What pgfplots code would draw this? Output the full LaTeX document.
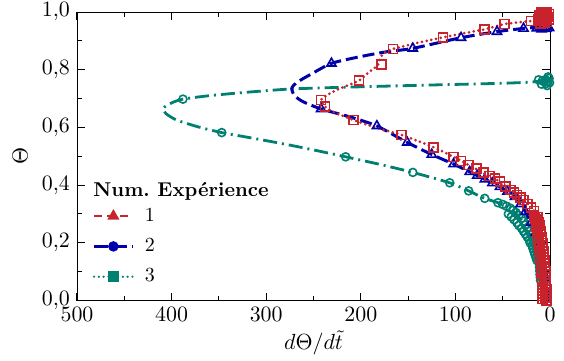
\documentclass[border=0pt]{standalone}
\usepackage{pgfplots}
\pgfplotsset{compat=1.18}
\definecolor{cred}{RGB}{200,35,45}
\definecolor{cblue}{RGB}{0,0,170}
\definecolor{cteal}{RGB}{0,128,112}
\begin{document}
\begin{tikzpicture}
\begin{axis}[
  scale only axis, width=236.5pt, height=144.25pt,
  x dir=reverse, xmin=0, xmax=500, ymin=0, ymax=1,
  xtick={0,100,200,300,400,500}, minor xtick={50,150,250,350,450},
  ytick={0,0.2,0.4,0.6,0.8,1.0}, minor ytick={0.1,0.3,0.5,0.7,0.9},
  tick align=inside, major tick length=4pt, minor tick length=2.5pt,
  tick style={black, line width=0.5pt},
  ticklabel style={font=\fontsize{10.5}{12}\selectfont},
  yticklabel style={/pgf/number format/.cd, use comma, fixed, fixed zerofill, precision=1},
  xticklabel style={/pgf/number format/.cd, fixed, precision=0},
  xlabel={$d\Theta/d\tilde{t}$}, ylabel={$\Theta$},
  label style={font=\fontsize{11}{13}\selectfont},
  xlabel style={at={(axis description cs:0.5,-0.147)}, anchor=center},
  ylabel style={at={(axis description cs:-0.12,0.5)}, anchor=center},
  legend cell align=left,
  legend style={draw=none, fill=none, at={(axis description cs:0.02,0.35)}, anchor=north west,
    font=\fontsize{10}{12}\selectfont, row sep=3pt},
  legend image code/.code={\draw[mark repeat=2,mark phase=2,#1] plot coordinates {(0cm,0cm) (0.34cm,0cm) (0.68cm,0cm)};},
]
% ---------- Series 3 (teal) ----------
\addplot[cteal, line width=1.4pt, dash pattern=on 7pt off 2.5pt on 1pt off 2.5pt, smooth, tension=0.4, forget plot] coordinates {
(9,0.02) (10,0.07) (10.6,0.095) (12,0.13) (16,0.187) (20,0.22) (26,0.256) (33,0.29) (42,0.32) (55,0.339) (69,0.354) (86,0.38) (106,0.408) (145,0.444) (180,0.472) (216,0.498) (250,0.522) (285,0.545) (320,0.566) (347,0.582) (372,0.602) (395,0.626) (406,0.648) (409,0.666) (400,0.685) (388,0.698) (360,0.71) (320,0.722) (275,0.733) (220,0.739) (150,0.745) (100,0.749) (50,0.753) (20,0.757) (10,0.762) (3,0.765) (0,0.765)
};
\addplot[cteal, only marks, mark=o, mark size=2pt, mark options={line width=0.8pt}, forget plot] coordinates {
(388,0.698) (347,0.582) (216,0.498) (145,0.444) (106,0.408) (86,0.38) (69,0.354) (55,0.339)
(50,0.333) (46,0.327) (42,0.32) (39,0.313) (36,0.305) (33,0.295) (30,0.285) (28,0.275) (26,0.262) (24,0.252) (22,0.24) (20,0.228) (18,0.215) (17,0.203) (15,0.19) (14,0.178) (13,0.165) (12.5,0.152) (12,0.14) (11.5,0.128) (11,0.115) (10.8,0.103) (10.5,0.09) (10.2,0.08) (10,0.07)
(44,0.3) (41,0.29) (38,0.28) (35,0.27) (33,0.26) (30,0.25) (28,0.24) (26,0.23) (24,0.22) (22,0.21) (21,0.2) (19,0.19) (18,0.18) (17,0.17) (16,0.16) (15,0.15) (14,0.14)
(12,0.765) (9,0.75) (8,0.762) (6,0.758) (5,0.765) (4,0.752) (3,0.745) (2,0.775) (2,0.76) (1,0.77) (0.5,0.755)
};
% ---------- Series 2 (blue) ----------
\addplot[cblue, line width=1.5pt, dash pattern=on 6pt off 2.5pt, smooth, tension=0.4, forget plot] coordinates {
(1,0.0) (2,0.05) (4,0.1) (7,0.15) (12,0.2) (19,0.25) (26,0.308) (37,0.36) (53,0.394) (69,0.42) (85,0.446) (102,0.473) (125,0.506) (151,0.548) (183,0.605) (210,0.635) (242,0.664) (261,0.689) (270,0.71) (273,0.735) (268,0.755) (254,0.782) (231,0.822) (201,0.845) (173,0.862) (145,0.874) (94,0.911) (56,0.932) (28,0.943) (7,0.949) (0,0.95)
};
\addplot[cblue, only marks, mark=triangle, mark size=2.6pt, mark options={line width=0.8pt}, forget plot] coordinates {
(20,0.27) (15,0.235) (11,0.2) (26,0.308) (31,0.335) (37,0.36) (45,0.378) (53,0.394) (61,0.407) (69,0.42) (77,0.433) (85,0.446) (102,0.473) (125,0.506) (151,0.548) (183,0.605) (242,0.664) (231,0.822) (145,0.874) (94,0.911) (56,0.932) (28,0.943)
(14,0.944) (11,0.946) (9,0.94) (8,0.947) (5,0.948) (4,0.942) (2,0.949) (1,0.945)
};
% ---------- Series 1 (red) ----------
\addplot[cred, line width=1.5pt, line cap=round, dash pattern=on 0pt off 2.4pt, smooth, tension=0.4, forget plot] coordinates {
(5,0.0) (6,0.05) (6.5,0.1) (7.5,0.15) (9,0.2) (11,0.25) (14,0.296) (20,0.325) (28,0.348) (42,0.383) (53,0.412) (70.5,0.443) (86,0.47) (102,0.498) (123,0.531) (157,0.574) (185,0.6) (208,0.626) (228,0.652) (238,0.672) (242,0.695) (234,0.715) (222,0.735) (202,0.762) (192,0.79) (182,0.815) (180,0.835) (176,0.857) (166,0.872) (140,0.893) (113,0.912) (90,0.927) (69,0.94) (48,0.958) (20,0.969) (8,0.975) (0,0.98)
};
\addplot[cred, only marks, mark=square, mark size=2.25pt, mark options={line width=0.8pt}, forget plot] coordinates {
(17,0.31) (20,0.322) (24,0.335) (28,0.348) (31,0.357) (35,0.366) (38,0.374) (42,0.383) (47,0.396) (53,0.412) (58,0.422) (64,0.432) (70.5,0.443) (78,0.457) (86,0.47) (94,0.484) (102,0.498) (123,0.531) (157,0.574) (208,0.626) (238,0.672) (242,0.695) (202,0.762) (178,0.819) (166,0.872) (113,0.912) (69,0.94) (48,0.958) (20,0.969)
(4,0.000) (8,0.005) (5,0.010) (8,0.015) (4,0.020) (8,0.025) (5,0.030) (8,0.035) (4,0.040) (8,0.045) (5,0.050) (8.5,0.055) (4.5,0.060) (8.5,0.065) (5,0.070) (8.5,0.075) (4.5,0.080) (8.5,0.085) (5,0.090) (9,0.095) (5,0.100) (9,0.105) (5.5,0.110) (9,0.115) (5.5,0.120) (9.5,0.125) (6,0.130) (9.5,0.135) (6,0.140) (10,0.145) (6.5,0.150) (10,0.155) (7,0.160) (10.5,0.165) (7,0.170) (11,0.175) (7.5,0.180) (11,0.185) (8,0.190) (11.5,0.195) (8,0.200) (12,0.205) (8.5,0.210) (12,0.215) (9,0.220) (12.5,0.225) (9.5,0.230) (13,0.235) (10,0.240) (13.5,0.245) (10.5,0.250) (14,0.255) (11,0.260) (14.5,0.265) (12,0.270) (15,0.275) (12.5,0.280) (16,0.285) (13.5,0.290) (17,0.295)
(12,0.975) (11,0.99) (10,0.96) (10,0.978) (9,0.999) (8,0.97) (8,0.986) (7,0.995) (6,0.962) (6,0.98) (5,1.0) (4,0.972) (4,0.99) (3,0.965) (3,0.998) (2,0.983) (1,0.975) (1,0.993)
};
% ---------- Legend ----------
\addlegendimage{cred, line width=1.2pt, dash pattern=on 4pt off 2.5pt, mark=triangle*, mark size=2.3pt, mark options={solid}}
\addlegendentry{\hspace{3.5pt}1}
\addlegendimage{cblue, line width=1.2pt, dash pattern=on 7pt off 2.5pt, mark=*, mark size=2pt, mark options={solid}}
\addlegendentry{\hspace{3.5pt}2}
\addlegendimage{cteal, line width=1.2pt, line cap=round, dash pattern=on 0pt off 2.4pt, mark=square*, mark size=2.1pt, mark options={solid}}
\addlegendentry{\hspace{3.5pt}3}
\node[anchor=base west, inner sep=0pt, font=\bfseries\fontsize{10}{12}\selectfont] at (axis description cs:0.034,0.362) {Num.\ Expérience};
\coordinate (ll) at (rel axis cs:0,0);
\coordinate (ur) at (rel axis cs:1,1);
\end{axis}
\pgfresetboundingbox
\path[use as bounding box] ([xshift=-38.5pt,yshift=-29.75pt]ll) rectangle ([xshift=7pt,yshift=6pt]ur);
\end{tikzpicture}
\end{document}
